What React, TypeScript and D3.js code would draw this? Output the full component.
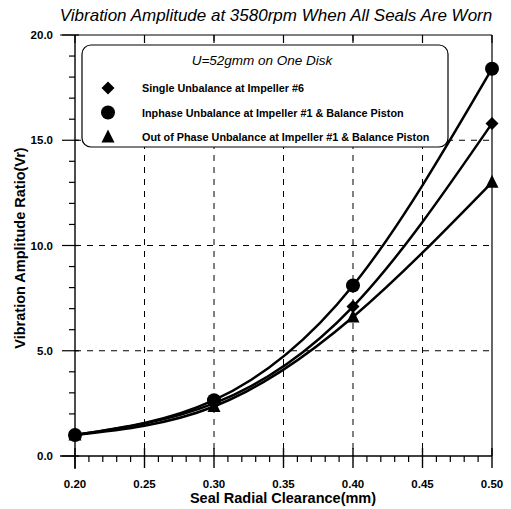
import React from "react";
import * as d3 from "d3";

const clearance = [0.2, 0.3, 0.4, 0.5];
const singleSeries = [1.0, 2.5, 7.1, 15.8];
const inphaseSeries = [1.0, 2.65, 8.1, 18.4];
const outPhaseSeries = [1.0, 2.35, 6.6, 13.0];
const xMajorTicks = [0.2, 0.25, 0.3, 0.35, 0.4, 0.45, 0.5];
const yMajorTicks = [0, 5, 10, 15, 20];
const legendLabels = [
  "Single Unbalance at Impeller #6",
  "Inphase Unbalance at Impeller #1 & Balance Piston",
  "Out of Phase Unbalance at Impeller #1 & Balance Piston",
];
const titleText = "Vibration Amplitude at 3580rpm When All Seals Are Worn";
const legendTitle = "U=52gmm on One Disk";
const xLabel = "Seal Radial Clearance(mm)";
const yLabel = "Vibration Amplitude Ratio(Vr)";

const W = 511;
const H = 509;
const FONT = "'Liberation Sans', Arial, sans-serif";

function Marker({ kind, cx, cy }: { kind: string; cx: number; cy: number }) {
  if (kind === "circle") return <circle cx={cx} cy={cy} r={7} fill="#000" />;
  if (kind === "diamond") {
    const s = 6.5;
    return <path d={`M${cx},${cy - s}L${cx + s},${cy}L${cx},${cy + s}L${cx - s},${cy}Z`} fill="#000" />;
  }
  const s = 6.5;
  return <path d={`M${cx},${cy - s - 1}L${cx + s},${cy + s - 1}L${cx - s},${cy + s - 1}Z`} fill="#000" />;
}

export default function App() {
  const x = d3.scaleLinear().domain([0.2, 0.5]).range([75, 492]);
  const y = d3.scaleLinear().domain([0, 20]).range([456, 35]);
  const line = d3
    .line<number>()
    .x((_, i) => x(clearance[i]))
    .y((d) => y(d))
    .curve(d3.curveNatural);

  const series = [
    { vals: singleSeries, kind: "diamond" },
    { vals: inphaseSeries, kind: "circle" },
    { vals: outPhaseSeries, kind: "triangle" },
  ];

  const xMinor = d3.range(0, 31).map((i) => 0.2 + i * 0.01).filter((v) => Math.round(v * 100) % 5 !== 0);
  const yMinor = d3.range(0, 21).filter((v) => v % 5 !== 0);

  const [x0, x1] = x.range();
  const [y0, y1] = y.range();

  return (
    <svg width={W} height={H} style={{ display: "block", position: "absolute", left: 0, top: 0 }}>
      <rect width={W} height={H} fill="#fff" />
      {/* grid */}
      {xMajorTicks.slice(1, -1).map((t) => (
        <line key={"gx" + t} x1={x(t)} x2={x(t)} y1={y1} y2={y0} stroke="#000" strokeWidth={1} strokeDasharray="6,6" />
      ))}
      {yMajorTicks.slice(1, -1).map((t) => (
        <line key={"gy" + t} x1={x0} x2={x1} y1={y(t)} y2={y(t)} stroke="#000" strokeWidth={1} strokeDasharray="6,6" />
      ))}
      {/* frame */}
      <line x1={60} x2={x1} y1={y1} y2={y1} stroke="#000" strokeWidth={1.2} />
      <line x1={x1} x2={x1} y1={y1} y2={y0} stroke="#000" strokeWidth={1.2} />
      <line x1={60} x2={x1} y1={y0} y2={y0} stroke="#000" strokeWidth={1.4} />
      <line x1={x0} x2={x0} y1={y1} y2={469} stroke="#000" strokeWidth={1.4} />
      {/* x ticks */}
      {xMajorTicks.map((t) => (
        <g key={"xt" + t}>
          <line x1={x(t)} x2={x(t)} y1={y0 - 8} y2={y0 + 12} stroke="#000" strokeWidth={1.4} />
          <line x1={x(t)} x2={x(t)} y1={y1} y2={y1 + 8} stroke="#000" strokeWidth={1.2} />
          <text x={x(t)} y={488} textAnchor="middle" fontFamily={FONT} fontWeight="bold" fontSize={11.5}>
            {t.toFixed(2)}
          </text>
        </g>
      ))}
      {xMinor.map((t) => (
        <line key={"xm" + t} x1={x(t)} x2={x(t)} y1={y0} y2={y0 + 6} stroke="#000" strokeWidth={1.2} />
      ))}
      {/* y ticks */}
      {yMajorTicks.map((t) => (
        <g key={"yt" + t}>
          <line x1={62} x2={x0 + 4} y1={y(t)} y2={y(t)} stroke="#000" strokeWidth={1.2} />
          <text x={53} y={y(t) + 4} textAnchor="end" fontFamily={FONT} fontWeight="bold" fontSize={11.5}>
            {t.toFixed(1)}
          </text>
        </g>
      ))}
      {yMinor.map((t) => (
        <line key={"ym" + t} x1={69} x2={x0} y1={y(t)} y2={y(t)} stroke="#000" strokeWidth={1.2} />
      ))}
      {/* legend */}
      <rect x={82} y={45} width={366} height={102} rx={9} ry={9} fill="#fff" stroke="#000" strokeWidth={1.2} />
      <text x={262} y={65} textAnchor="middle" fontFamily={FONT} fontStyle="italic" fontSize={13.5}>
        {legendTitle}
      </text>
      {legendLabels.map((lab, i) => (
        <g key={lab}>
          <Marker kind={series[i].kind} cx={108} cy={88 + i * 24.5} />
          <text x={142} y={92 + i * 24.5} fontFamily={FONT} fontWeight="bold" fontSize={10.8}>
            {lab}
          </text>
        </g>
      ))}
      {/* curves */}
      {series.map((s, si) => (
        <g key={"s" + si}>
          <path d={line(s.vals) || ""} fill="none" stroke="#000" strokeWidth={2.5} />
          {s.vals.map((v, i) => (
            <Marker key={i} kind={s.kind} cx={x(clearance[i])} cy={y(v)} />
          ))}
        </g>
      ))}
      {/* titles */}
      <text x={276} y={21} textAnchor="middle" fontFamily={FONT} fontStyle="italic" fontSize={17}>
        {titleText}
      </text>
      <text x={283} y={503} textAnchor="middle" fontFamily={FONT} fontWeight="bold" fontSize={14.5}>
        {xLabel}
      </text>
      <text
        transform={`translate(25,248) rotate(-90)`}
        textAnchor="middle"
        fontFamily={FONT}
        fontWeight="bold"
        fontSize={14.5}
      >
        {yLabel}
      </text>
    </svg>
  );
}
